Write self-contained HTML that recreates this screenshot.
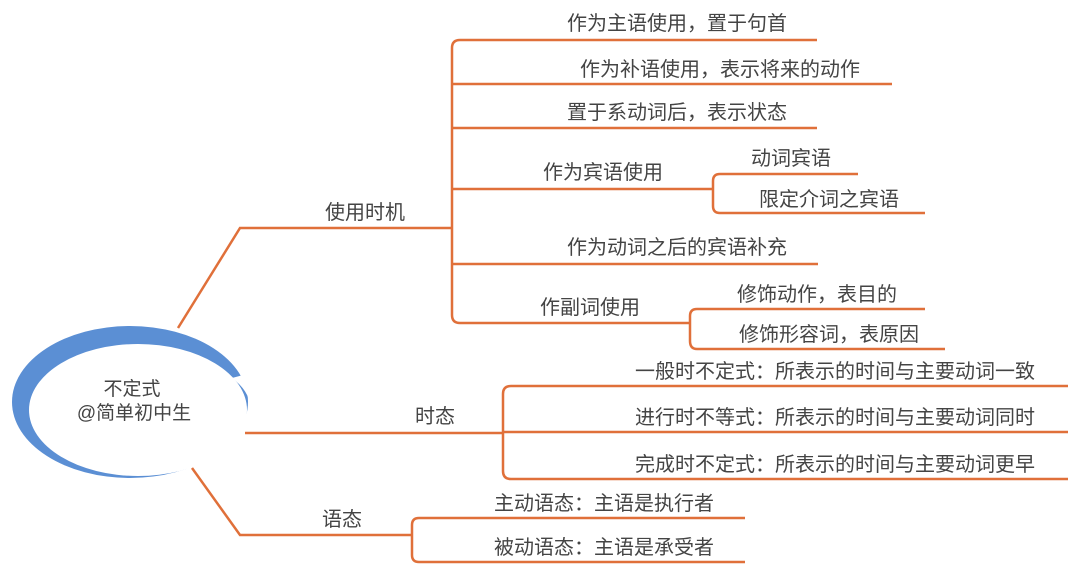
<!DOCTYPE html>
<html><head><meta charset="utf-8"><style>
body{margin:0;background:#fff;}
svg{display:block;}
text{font-family:"Liberation Sans","Noto Sans CJK SC",sans-serif;font-size:20px;fill:#444;text-anchor:middle;}
.l{stroke:#e0703a;stroke-width:2.5;fill:none;}
</style></head><body>
<svg width="1080" height="583" viewBox="0 0 1080 583">
<!-- ellipse -->
<ellipse cx="130" cy="402" rx="118" ry="76" fill="#5b8fd4"/>
<ellipse cx="138" cy="410" rx="109" ry="66" fill="#fff"/>
<path d="M232 378 Q255 395 250 420 L252 440 L262 440 L262 370 Z" fill="#fff"/>
<text x="132" y="395" style="font-size:19px">不定式</text>
<text x="134" y="419" style="font-size:19px">@简单初中生</text>
<!-- main branches -->
<path class="l" d="M178 328 L240 228 L452 228"/>
<path class="l" d="M245 433 L503 433"/>
<path class="l" d="M192 468 L240 535 L412 535"/>
<text x="365" y="219">使用时机</text>
<text x="435" y="423">时态</text>
<text x="342" y="526">语态</text>
<!-- bracket 1 -->
<path class="l" d="M460 40 Q452 40 452 48 L452 315 Q452 323 460 323"/>
<path class="l" d="M460 40 L817 40 M452 84 L892 84 M452 128 L817 128 M452 189 L713 189 M452 264 L818 264 M460 323 L690 323"/>
<text x="677" y="30">作为主语使用，置于句首</text>
<text x="720" y="76">作为补语使用，表示将来的动作</text>
<text x="677" y="119">置于系动词后，表示状态</text>
<text x="603" y="179">作为宾语使用</text>
<text x="677" y="254">作为动词之后的宾语补充</text>
<text x="590" y="314">作副词使用</text>
<!-- 宾语 -->
<path class="l" d="M720 174 Q713 174 713 181 L713 206 Q713 213 720 213 L925 213 M720 174 L858 174"/>
<text x="791" y="165">动词宾语</text>
<text x="829" y="206">限定介词之宾语</text>
<!-- 副词 -->
<path class="l" d="M697 309 Q690 309 690 316 L690 341 Q690 349 697 349 L945 349 M697 309 L925 309"/>
<text x="817" y="301">修饰动作，表目的</text>
<text x="829" y="341">修饰形容词，表原因</text>
<!-- 时态 -->
<path class="l" d="M511 386 Q503 386 503 394 L503 471 Q503 479 511 479 L1068 479 M511 386 L1068 386 M503 432 L1068 432"/>
<text x="835" y="378">一般时不定式：所表示的时间与主要动词一致</text>
<text x="835" y="424">进行时不等式：所表示的时间与主要动词同时</text>
<text x="835" y="471">完成时不定式：所表示的时间与主要动词更早</text>
<!-- 语态 -->
<path class="l" d="M419 518 Q412 518 412 525 L412 555 Q412 562 419 562 L745 562 M419 518 L745 518"/>
<text x="604" y="510">主动语态：主语是执行者</text>
<text x="604" y="554">被动语态：主语是承受者</text>
</svg>
</body></html>
